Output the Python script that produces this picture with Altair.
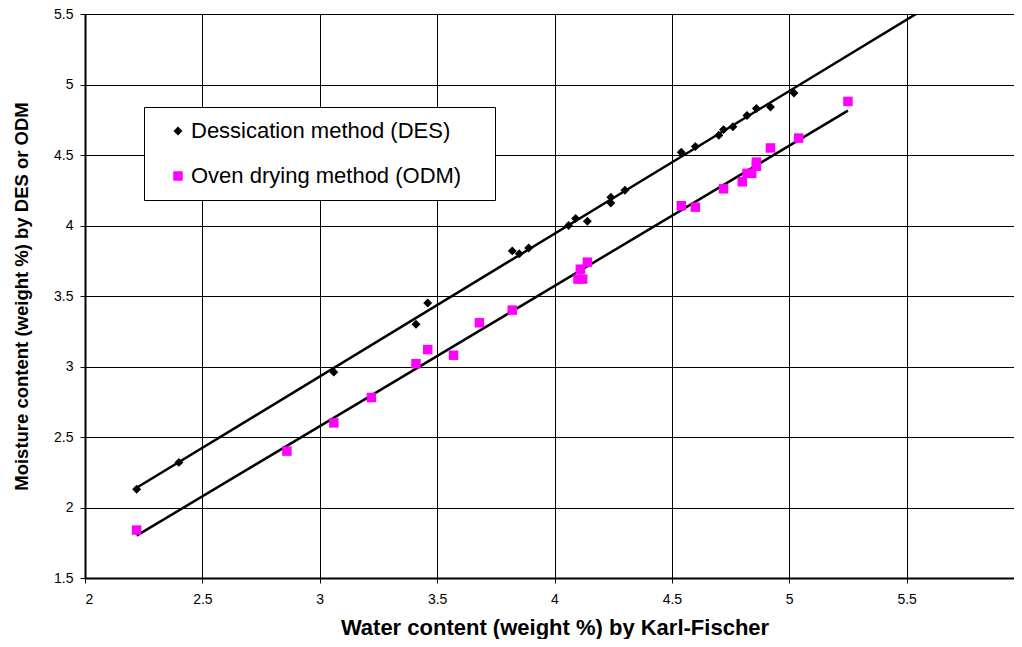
import altair as alt
import pandas as pd

methods = ["Dessication method (DES)", "Oven drying method (ODM)"]

des_x = [2.22, 2.40, 3.06, 3.41, 3.46, 3.82, 3.85, 3.89, 4.06, 4.09, 4.14, 4.24, 4.24,
         4.30, 4.54, 4.60, 4.70, 4.72, 4.76, 4.82, 4.86, 4.92, 5.02]
des_y = [2.13, 2.32, 2.96, 3.30, 3.45, 3.82, 3.80, 3.84, 4.00, 4.05, 4.03, 4.20, 4.16,
         4.25, 4.52, 4.56, 4.64, 4.68, 4.70, 4.78, 4.83, 4.84, 4.94]

odm_x = [2.22, 2.86, 3.06, 3.22, 3.41, 3.46, 3.57, 3.68, 3.82, 4.10, 4.11, 4.12, 4.14,
         4.54, 4.60, 4.72, 4.80, 4.82, 4.84, 4.86, 4.86, 4.92, 5.04, 5.25]
odm_y = [1.84, 2.40, 2.60, 2.78, 3.02, 3.12, 3.08, 3.31, 3.40, 3.62, 3.69, 3.62, 3.74,
         4.14, 4.13, 4.26, 4.31, 4.37, 4.37, 4.42, 4.45, 4.55, 4.62, 4.88]

x_ticks = [2, 2.5, 3, 3.5, 4, 4.5, 5, 5.5, 6]
y_ticks = [1.5, 2, 2.5, 3, 3.5, 4, 4.5, 5, 5.5]

df = pd.DataFrame({
    "kf": des_x + odm_x,
    "moist": des_y + odm_y,
    "method": [methods[0]] * len(des_x) + [methods[1]] * len(odm_x),
})

FONT = "Liberation Sans"

x_scale = alt.Scale(domain=[2, 6], nice=False, zero=False)
y_scale = alt.Scale(domain=[1.5, 5.5], nice=False, zero=False)

x_axis = alt.Axis(values=x_ticks, format="~g", title="Water content (weight %) by Karl-Fischer",
                  titleFontSize=22, titleBaseline="alphabetic", titleY=56, labelPadding=9)
y_axis = alt.Axis(values=y_ticks, format="~g", title="Moisture content (weight %) by DES or ODM",
                  titleFontSize=18.5, titleBaseline="alphabetic", titleX=-58, titleY=282,
                  titleAngle=270, labelPadding=7)

legend = alt.Legend(
    title=None, orient="none", legendX=59, legendY=93,
    fillColor="white", strokeColor="black", padding=13,
    symbolOffset=10, labelOffset=2, rowPadding=23,
    labelFontSize=22, labelFont=FONT, labelColor="black", labelLimit=1000,
    symbolSize=85, symbolStrokeWidth=0,
    labelExpr="datum.label + '\uffa0'",
)

points = alt.Chart(df).mark_point(filled=True, opacity=1).encode(
    x=alt.X("kf:Q", scale=x_scale, axis=x_axis),
    y=alt.Y("moist:Q", scale=y_scale, axis=y_axis),
    color=alt.Color("method:N", scale=alt.Scale(domain=methods, range=["#000000", "#FF00FF"]), legend=legend),
    shape=alt.Shape("method:N", scale=alt.Scale(domain=methods, range=["diamond", "square"]), legend=legend),
    size=alt.Size("method:N", scale=alt.Scale(domain=methods, range=[80, 90]), legend=None),
)

des_line = alt.Chart(df).transform_filter(
    alt.datum.method == methods[0]
).transform_regression("kf", "moist", extent=[2.22, 5.6]).mark_line(
    color="black", strokeWidth=2.5, clip=True
).encode(x=alt.X("kf:Q", scale=x_scale), y=alt.Y("moist:Q", scale=y_scale))

odm_line = alt.Chart(df).transform_filter(
    alt.datum.method == methods[1]
).transform_regression("kf", "moist", extent=[2.22, 5.25]).mark_line(
    color="black", strokeWidth=2.5, clip=True
).encode(x=alt.X("kf:Q", scale=x_scale), y=alt.Y("moist:Q", scale=y_scale))

chart = alt.layer(des_line, odm_line, points).properties(
    width=939, height=564,
    autosize=alt.AutoSizeParams(type="none"),
    padding={"left": 77, "top": 6, "right": -10, "bottom": 61},
    background="white",
).configure_view(stroke="transparent").configure_axis(
    domainColor="black", domainWidth=2, gridColor="black", gridWidth=1, gridOpacity=1,
    tickColor="black", tickSize=5, tickWidth=1,
    labelFont=FONT, labelFontSize=14, labelColor="black",
    titleFont=FONT, titleFontWeight="bold", titleColor="black",
)

chart.save("out.html", embed_options={"renderer": "svg", "actions": False})
